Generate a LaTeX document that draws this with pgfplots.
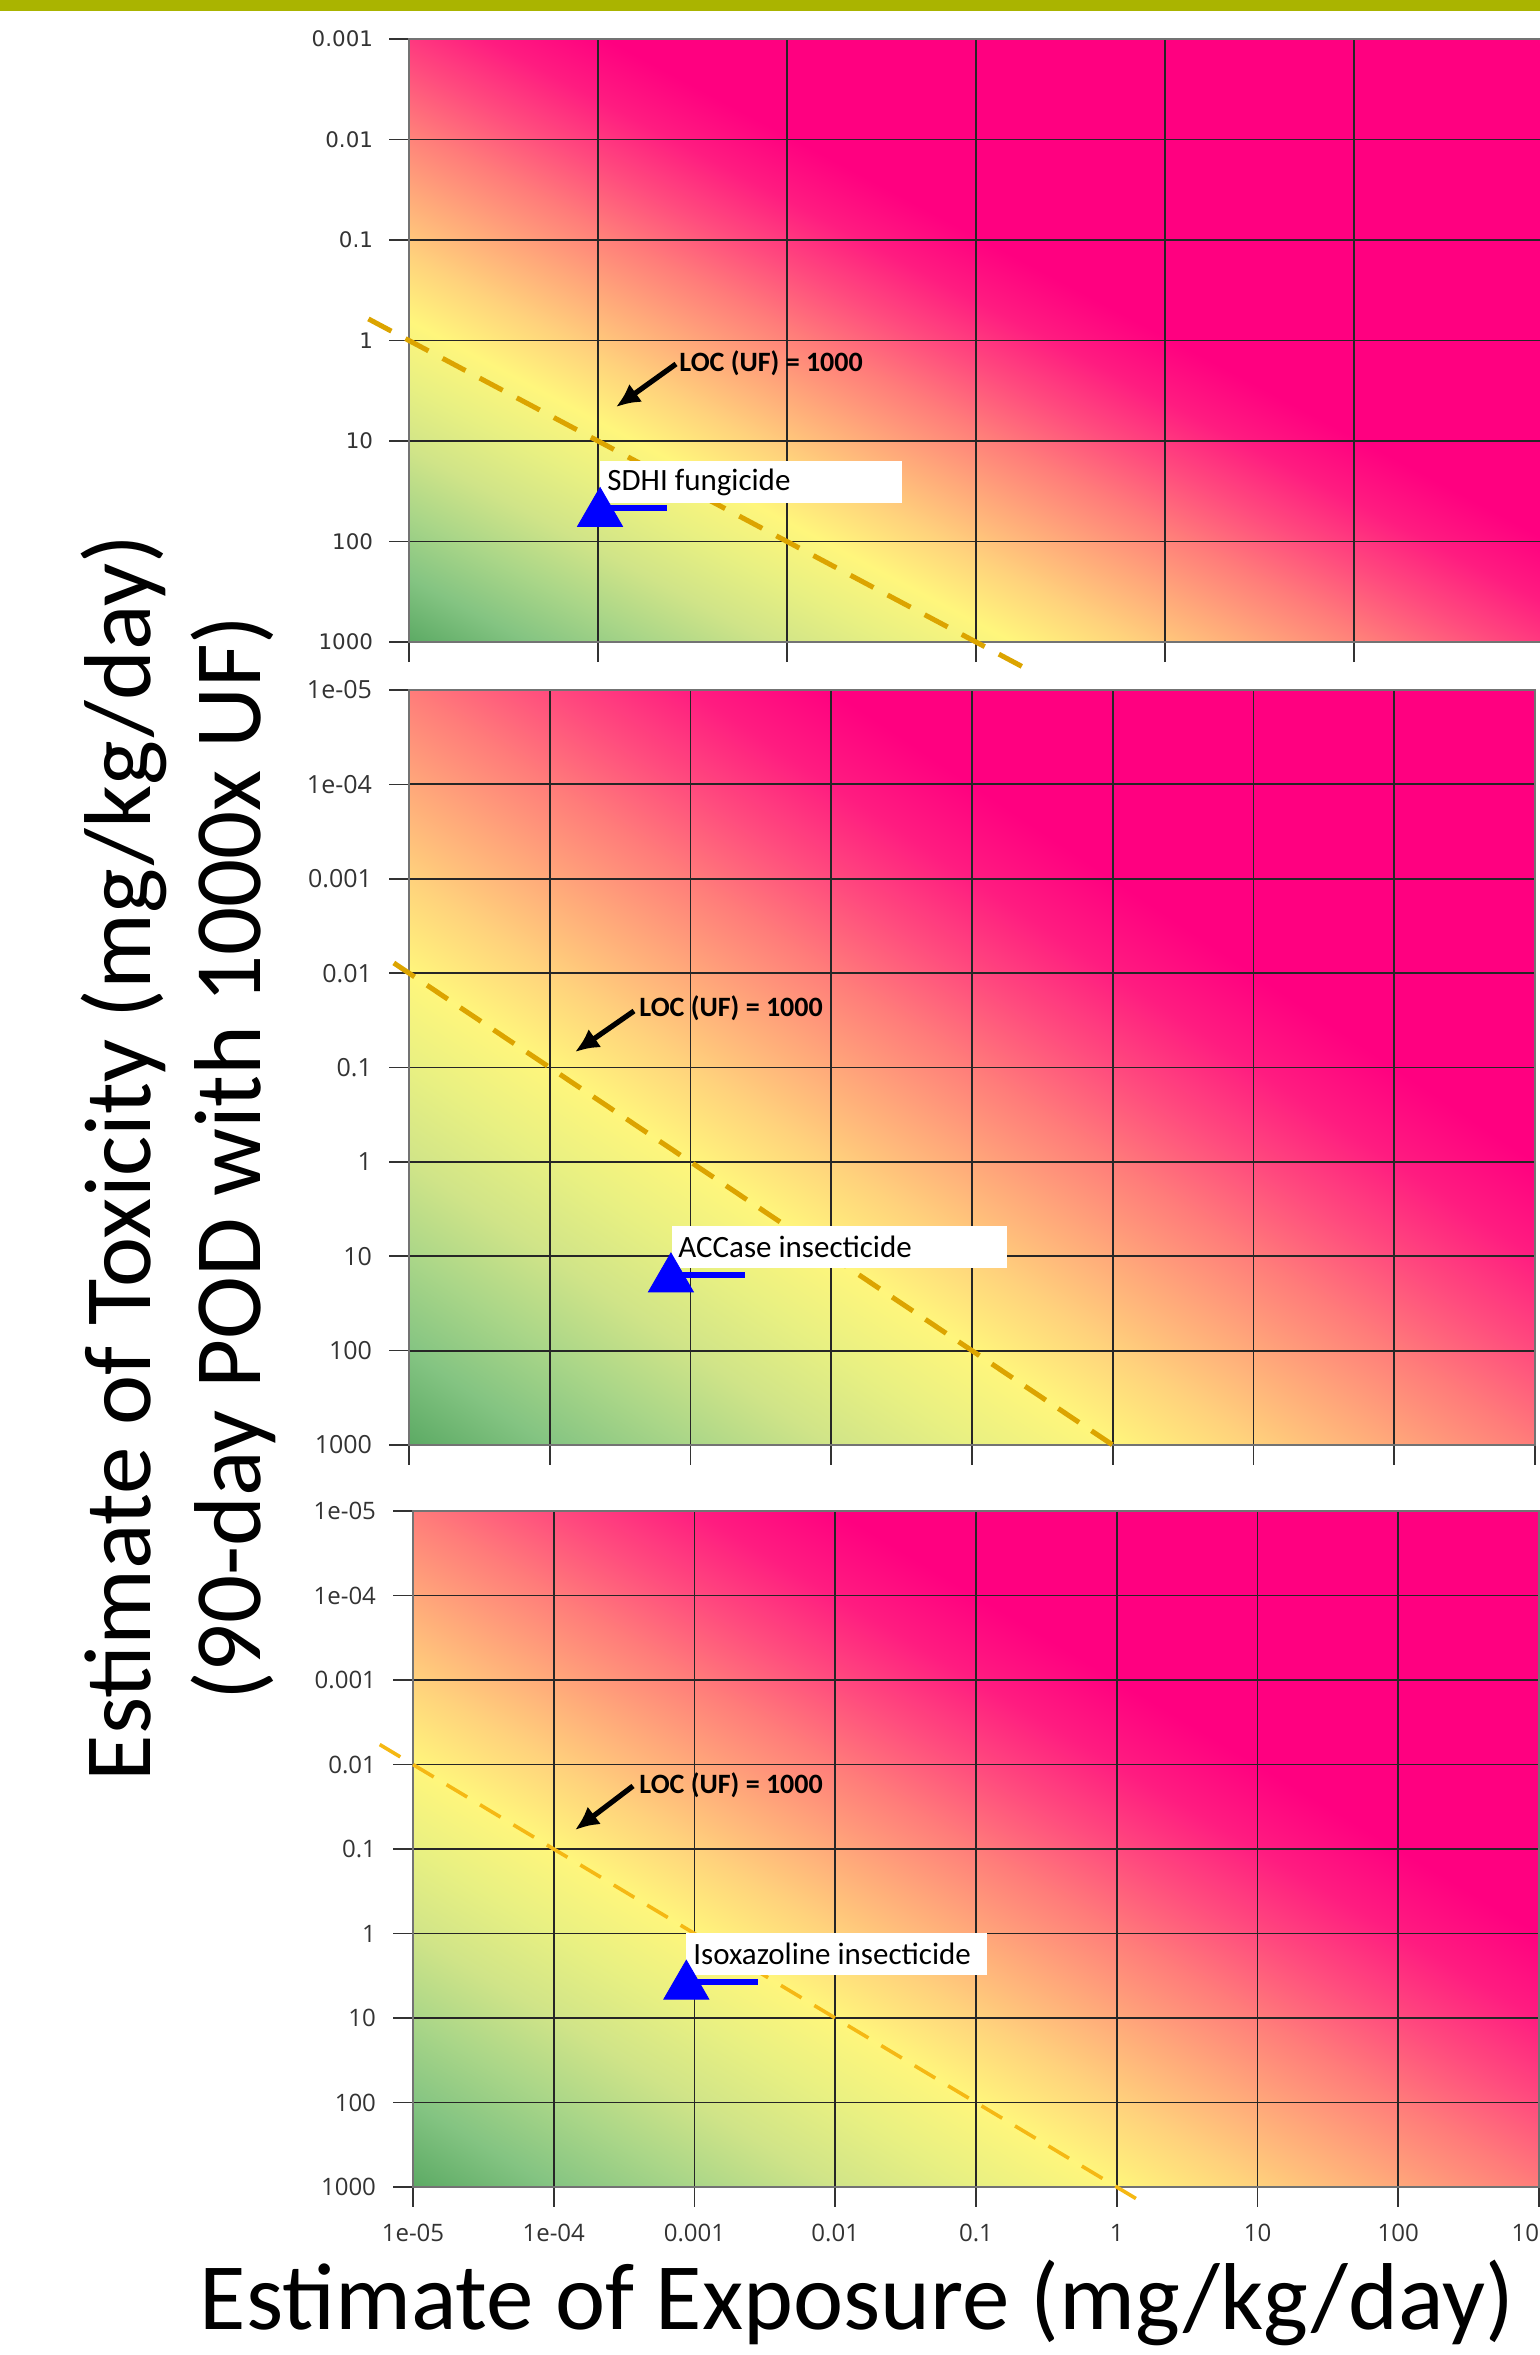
\documentclass[border=0pt]{standalone}
\usepackage{fontspec}
\setmainfont{Carlito}
\newfontfamily\osans{Open Sans}
\newfontfamily\dvs{DejaVu Sans}
\usepackage{pgfplots}
\pgfplotsset{compat=1.18}
\usetikzlibrary{arrows.meta}
\definecolor{olivebar}{RGB}{170,180,0}
\definecolor{locA}{RGB}{220,164,0}
\definecolor{locC}{RGB}{245,184,20}
\definecolor{tri}{RGB}{0,0,255}
\pgfplotsset{
  colormap={locmap}{rgb255(0cm)=(92,170,100) rgb255(4cm)=(132,196,130) rgb255(8cm)=(170,214,136) rgb255(12cm)=(208,228,136) rgb255(16cm)=(232,240,130) rgb255(20cm)=(255,246,124) rgb255(24cm)=(255,210,124) rgb255(28cm)=(255,168,122) rgb255(32cm)=(255,124,122) rgb255(36cm)=(255,74,126) rgb255(40cm)=(255,28,128) rgb255(44cm)=(255,0,128) rgb255(80cm)=(255,0,128)},
}
\pgfplotsset{
  bg/.style={surf, shader=interp, mesh/rows=2, mesh/cols=2, point meta=explicit},
}
\begin{document}
\begin{tikzpicture}
\fill[olivebar] (0,0) rectangle (770pt,-5.3pt);

% ================= panel 1
\begin{axis}[xmode=log, ymode=log, y dir=reverse, clip=false, scale only axis, axis on top,
    tick align=outside, tick pos=left, xminorticks=false, yminorticks=false,
    grid=major, major grid style={black!85,line width=0.9pt},
    axis line style={black!55,line width=0.8pt},
    major tick length=10pt, tick style={black!80,line width=0.8pt},
    anchor=north west, colormap name=locmap, point meta min=0, point meta max=4,
    ticklabel style={black!80},
  at={(204.5pt,-19.5pt)}, width=567pt, height=301.5pt,
  xmin=1e-3, xmax=1e3, ymin=1e-3, ymax=1e3,
  xtick={1e-3,1e-2,1e-1,1,10,100,1000}, xticklabels={},
  ytick={1e-3,1e-2,1e-1,1,10,100,1000},
  yticklabels={0.001,0.01,0.1,1,10,100,1000},
  yticklabel style={font=\dvs\fontsize{10.7}{12}\selectfont, xshift=-4.5pt}]
\addplot[bg] table[meta=t, row sep=\\] {x y t\\ 1e-3 1000 0\\ 1e3 1000 1.875\\ 1e-3 1e-3 1.875\\ 1e3 1e-3 3.75\\};
\end{axis}
\begin{axis}[xmode=log, ymode=log, y dir=reverse, clip=false, scale only axis, hide axis, anchor=north west,
  at={(204.5pt,-19.5pt)}, width=567pt, height=301.5pt,
  xmin=1e-3, xmax=1e3, ymin=1e-3, ymax=1e3]
\addplot[locA, line width=2.5pt, dash pattern=on 13pt off 8pt] coordinates {(6.1e-4,0.61) (1.8,1800)};
\end{axis}
\fill[white] (300pt,-230.5pt) rectangle (451pt,-251.5pt);
\node[anchor=west, inner sep=0pt, font=\fontsize{15.5}{17}\selectfont] at (303.5pt,-241pt) {SDHI fungicide};
\begin{axis}[xmode=log, ymode=log, y dir=reverse, clip=false, scale only axis, hide axis, anchor=north west,
  at={(204.5pt,-19.5pt)}, width=567pt, height=301.5pt,
  xmin=1e-3, xmax=1e3, ymin=1e-3, ymax=1e3]
\addplot[tri, line width=3pt] coordinates {(1.025e-2,46.4) (0.0232,46.4)};
\addplot[only marks, mark=triangle*, mark size=13pt, color=tri] coordinates {(1.025e-2,52.6)};
\end{axis}

% ================= panel 2
\begin{axis}[xmode=log, ymode=log, y dir=reverse, clip=false, scale only axis, axis on top,
    tick align=outside, tick pos=left, xminorticks=false, yminorticks=false,
    grid=major, major grid style={black!85,line width=0.9pt},
    axis line style={black!55,line width=0.8pt},
    major tick length=10pt, tick style={black!80,line width=0.8pt},
    anchor=north west, colormap name=locmap, point meta min=0, point meta max=4,
    ticklabel style={black!80},
  at={(204.5pt,-345pt)}, width=563pt, height=377.5pt,
  xmin=1e-5, xmax=1e3, ymin=1e-5, ymax=1e3,
  xtick={1e-5,1e-4,1e-3,1e-2,1e-1,1,10,100,1000}, xticklabels={},
  ytick={1e-5,1e-4,1e-3,1e-2,1e-1,1,10,100,1000},
  yticklabels={1e-05,1e-04,0.001,0.01,0.1,1,10,100,1000},
  yticklabel style={font=\osans\fontsize{12.5}{14}\selectfont, xshift=-5pt}]
\addplot[bg] table[meta=t, row sep=\\] {x y t\\ 1e-5 1000 0\\ 1e3 1000 1.6\\ 1e-5 1e-5 1.6\\ 1e3 1e-5 3.2\\};
\end{axis}
\begin{axis}[xmode=log, ymode=log, y dir=reverse, clip=false, scale only axis, hide axis, anchor=north west,
  at={(204.5pt,-345pt)}, width=563pt, height=377.5pt,
  xmin=1e-5, xmax=1e3, ymin=1e-5, ymax=1e3]
\addplot[locA, line width=2.5pt, dash pattern=on 12.5pt off 7.5pt] coordinates {(7.8e-6,7.8e-3) (1,1000)};
\end{axis}
\fill[white] (336pt,-613pt) rectangle (503.5pt,-634pt);
\node[anchor=west, inner sep=0pt, font=\fontsize{15.5}{17}\selectfont] at (339pt,-623.5pt) {ACCase insecticide};
\begin{axis}[xmode=log, ymode=log, y dir=reverse, clip=false, scale only axis, hide axis, anchor=north west,
  at={(204.5pt,-345pt)}, width=563pt, height=377.5pt,
  xmin=1e-5, xmax=1e3, ymin=1e-5, ymax=1e3]
\addplot[tri, line width=3pt] coordinates {(7.3e-4,15.7) (2.43e-3,15.7)};
\addplot[only marks, mark=triangle*, mark size=13pt, color=tri] coordinates {(7.26e-4,17.4)};
\end{axis}

% ================= panel 3
\begin{axis}[xmode=log, ymode=log, y dir=reverse, clip=false, scale only axis, axis on top,
    tick align=outside, tick pos=left, xminorticks=false, yminorticks=false,
    grid=major, major grid style={black!85,line width=0.9pt},
    axis line style={black!55,line width=0.8pt},
    major tick length=10pt, tick style={black!80,line width=0.8pt},
    anchor=north west, colormap name=locmap, point meta min=0, point meta max=4,
    ticklabel style={black!80},
  at={(206.5pt,-755.5pt)}, width=563pt, height=338pt,
  xmin=1e-5, xmax=1e3, ymin=1e-5, ymax=1e3,
  xtick={1e-5,1e-4,1e-3,1e-2,1e-1,1,10,100,1000},
  xticklabels={1e-05,1e-04,0.001,0.01,0.1,1,10,100,1000},
  xticklabel style={font=\osans\fontsize{12}{14}\selectfont, yshift=-5pt},
  ytick={1e-5,1e-4,1e-3,1e-2,1e-1,1,10,100,1000},
  yticklabels={1e-05,1e-04,0.001,0.01,0.1,1,10,100,1000},
  yticklabel style={font=\osans\fontsize{12}{14}\selectfont, xshift=-5pt}]
\addplot[bg] table[meta=t, row sep=\\] {x y t\\ 1e-5 1000 0\\ 1e3 1000 1.6\\ 1e-5 1e-5 1.6\\ 1e3 1e-5 3.2\\};
\end{axis}
\begin{axis}[xmode=log, ymode=log, y dir=reverse, clip=false, scale only axis, hide axis, anchor=north west,
  at={(206.5pt,-755.5pt)}, width=563pt, height=338pt,
  xmin=1e-5, xmax=1e3, ymin=1e-5, ymax=1e3]
\addplot[locC, line width=1.8pt, dash pattern=on 12pt off 7.5pt] coordinates {(5.8e-6,5.8e-3) (1.6,1600)};
\end{axis}
\fill[white] (343pt,-966.5pt) rectangle (493.5pt,-987.5pt);
\node[anchor=west, inner sep=0pt, font=\fontsize{15.5}{17}\selectfont] at (346.5pt,-977pt) {Isoxazoline insecticide};
\begin{axis}[xmode=log, ymode=log, y dir=reverse, clip=false, scale only axis, hide axis, anchor=north west,
  at={(206.5pt,-755.5pt)}, width=563pt, height=338pt,
  xmin=1e-5, xmax=1e3, ymin=1e-5, ymax=1e3]
\addplot[tri, line width=3pt] coordinates {(8.8e-4,3.75) (2.82e-3,3.75)};
\addplot[only marks, mark=triangle*, mark size=13pt, color=tri] coordinates {(8.75e-4,4.2)};
\end{axis}

% ================= LOC annotations
\foreach \tx/\ty/\ax/\ay/\bx/\by in {339.5/-181.5/338/-182/308/-203.5, 319.5/-504/317/-505.5/287.5/-526, 319.5/-892.5/316.5/-893/287.5/-915}{
  \node[anchor=west, inner sep=0pt, font=\bfseries\fontsize{14}{16}\selectfont] at (\tx pt,\ty pt) {LOC (UF) = 1000};
  \draw[line width=2.6pt, -{Latex[length=12pt,width=11pt]}] (\ax pt,\ay pt) -- (\bx pt,\by pt);
}

% ================= axis titles
\node[rotate=90, align=center, inner sep=0pt, font=\fontsize{47.5}{55}\selectfont] at (89pt,-579pt) {Estimate of Toxicity (mg/kg/day)\\(90-day POD with 1000x UF)};
\node[anchor=base, inner sep=0pt, font=\fontsize{47.5}{55}\selectfont] at (428.5pt,-1164.5pt) {Estimate of Exposure (mg/kg/day)};
\pgfresetboundingbox
\useasboundingbox (0,0) rectangle (770pt,-1177.5pt);
\end{tikzpicture}
\end{document}
